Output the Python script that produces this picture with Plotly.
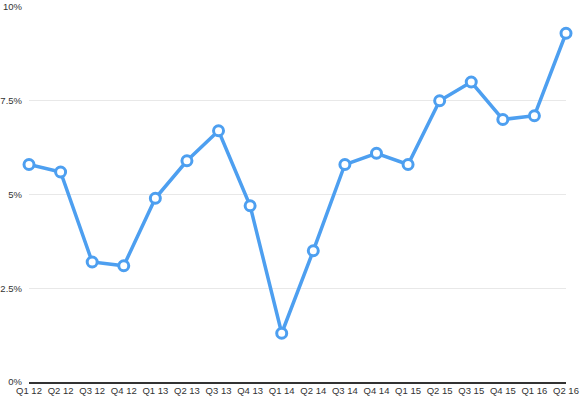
import plotly.graph_objects as go

quarters = ["Q1 12", "Q2 12", "Q3 12", "Q4 12", "Q1 13", "Q2 13", "Q3 13", "Q4 13",
            "Q1 14", "Q2 14", "Q3 14", "Q4 14", "Q1 15", "Q2 15", "Q3 15", "Q4 15",
            "Q1 16", "Q2 16"]
growth = [5.8, 5.6, 3.2, 3.1, 4.9, 5.9, 6.7, 4.7, 1.3, 3.5, 5.8, 6.1, 5.8, 7.5, 8.0, 7.0, 7.1, 9.3]
y_ticks = [0, 2.5, 5, 7.5, 10]
y_tick_labels = ["0%", "2.5%", "5%", "7.5%", "10%"]

blue = "#4d9ff0"
fig = go.Figure(go.Scatter(
    x=quarters, y=growth, mode="lines+markers",
    line=dict(color=blue, width=3.5),
    marker=dict(size=10, color="white", line=dict(color=blue, width=3)),
    cliponaxis=False,
))
fig.update_layout(
    width=580, height=398,
    margin=dict(l=29, r=14, t=7, b=16),
    paper_bgcolor="white", plot_bgcolor="white",
    showlegend=False,
    font=dict(family="Liberation Sans, Arial, sans-serif", size=10, color="#333"),
)
fig.update_xaxes(type="category", range=[0, 17], showgrid=False,
                 showline=True, linecolor="#333", linewidth=1.5,
                 tickfont=dict(size=9.5),
                 ticks="", ticklabelstandoff=-1, automargin=False)
fig.update_yaxes(range=[0, 10], tickvals=y_ticks, ticktext=y_tick_labels,
                 showgrid=True, gridcolor="#e8e8e8", gridwidth=1, zeroline=False,
                 tickfont=dict(size=9.5),
                 ticks="", ticklabelstandoff=6, automargin=False)
fig.write_html("out.html")
